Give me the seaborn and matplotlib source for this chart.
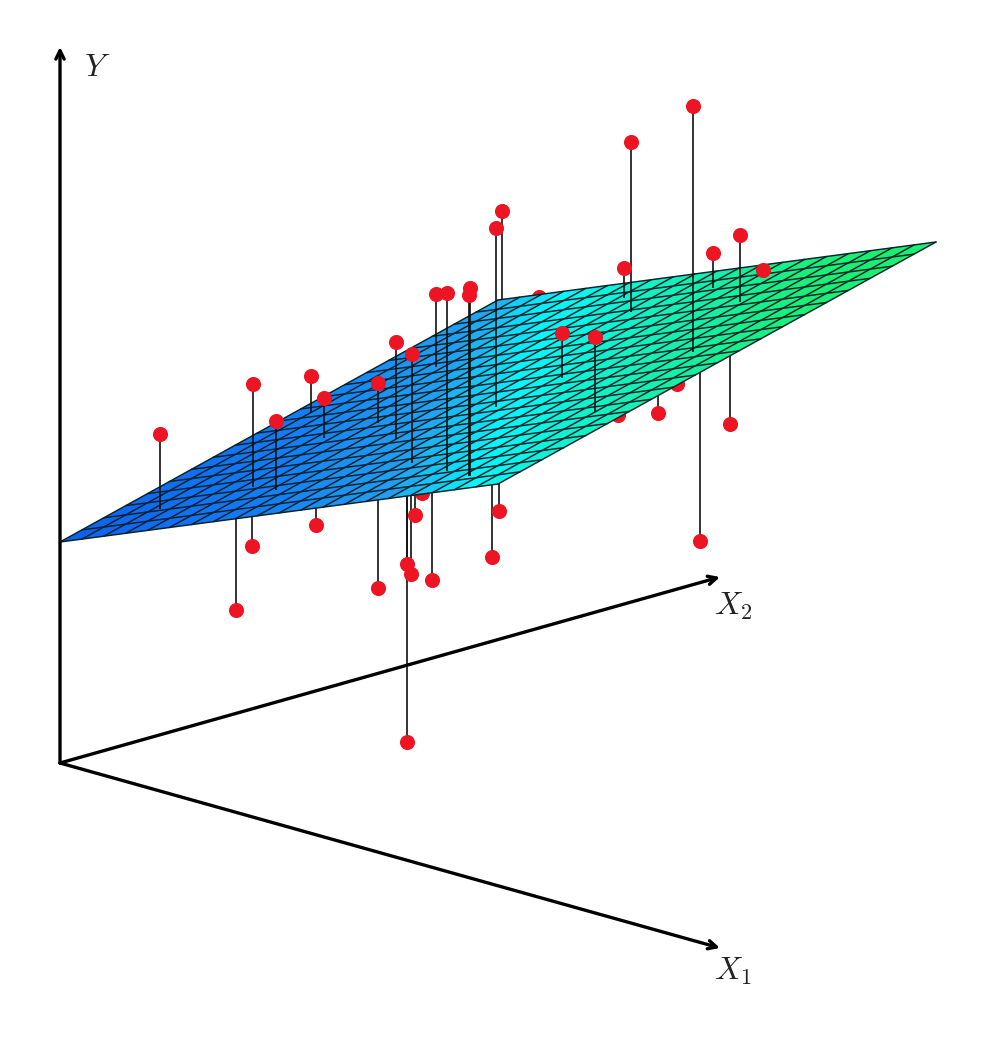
import numpy as np
import seaborn as sns
import matplotlib.pyplot as plt
from matplotlib.colors import LinearSegmentedColormap

# everything is read off the picture, in pixels
# points in front of / above the plane: x, y of point, y where the stem hits the plane
front_x = [160, 253, 276, 311, 324, 378, 396, 412, 436, 447, 470, 469, 496, 502, 624, 631, 562, 595, 693, 713, 740, 763]
front_y = [434, 384, 421, 376, 398, 383, 342, 354, 294, 293, 288, 295, 228, 211, 268, 142, 333, 337, 106, 253, 235, 270]
front_end = [509, 487, 490, 413, 438, 423, 439, 463, 367, 471, 476, 476, 407, 300, 298, 312, 378, 412, 352, 288, 302, 278]

# points below the plane, the surface covers the stems
below_x = [236, 252, 316, 378, 407, 411, 407, 415, 432, 492, 499, 422, 539, 618, 677, 658, 730, 700]
below_y = [610, 546, 525, 588, 564, 574, 742, 515, 580, 557, 511, 493, 297, 415, 384, 413, 424, 541]
below_end = [500, 500, 490, 480, 480, 480, 480, 480, 480, 470, 470, 470, 290, 400, 370, 385, 350, 360]

# plane corners
corner_x = [60, 498, 936, 498]
corner_y = [542, 300, 243, 484]
n_cells = 20

axis_origin = (60, 763)
axis_ends = {"Y": (60, 47), "X2": (720, 577), "X1": (720, 948)}
axis_labels = ["$Y$", "$X_2$", "$X_1$"]
label_x = [97, 733, 733]
label_y = [68, 606, 971]

cmap_stops = [(0.0, "#0f5ff0"), (0.25, "#147df5"), (0.42, "#23a0f0"), (0.52, "#0af5fa"),
              (0.66, "#14f0be"), (0.85, "#19f078"), (1.0, "#19f06e")]

sns.set_style("white")
plt.rcParams["mathtext.fontset"] = "cm"

fig = plt.figure(figsize=(9.94, 10.37), dpi=100)
ax = fig.add_axes([0, 0, 1, 1])
ax.set_xlim(0, 994)
ax.set_ylim(1037, 0)
ax.axis("off")

# things behind the plane
ax.vlines(below_x, below_y, below_end, color="#111111", lw=1.2, zorder=1)
sns.scatterplot(x=below_x, y=below_y, color="#ed1423", s=118, linewidth=0, ax=ax, zorder=2, legend=False)

# plane
u, v = np.meshgrid(np.linspace(0, 1, n_cells + 1), np.linspace(0, 1, n_cells + 1))
X = corner_x[0] + u * (corner_x[3] - corner_x[0]) + v * (corner_x[1] - corner_x[0])
Y = corner_y[0] + u * (corner_y[3] - corner_y[0]) + v * (corner_y[1] - corner_y[0])
um = (u[:-1, :-1] + u[1:, 1:]) / 2
vm = (v[:-1, :-1] + v[1:, 1:]) / 2
cmap = LinearSegmentedColormap.from_list("plane", cmap_stops)
mesh = ax.pcolormesh(X, Y, (um + 0.8 * vm) / 1.8, cmap=cmap, vmin=0, vmax=1, zorder=3, antialiased=True, linewidth=0)
mesh.set_snap(False)
ax.plot(X, Y, color="#06222a", lw=1.05, zorder=3.1, solid_capstyle="round")
ax.plot(X.T, Y.T, color="#06222a", lw=1.05, zorder=3.1, solid_capstyle="round")

# things in front of the plane
ax.vlines(front_x, front_y, front_end, color="#111111", lw=1.2, zorder=4)
sns.scatterplot(x=front_x, y=front_y, color="#ed1423", s=118, linewidth=0, ax=ax, zorder=5, legend=False)

# axes as arrows
for end in axis_ends.values():
    ax.annotate("", xy=end, xytext=axis_origin, zorder=6,
                arrowprops=dict(arrowstyle="->", color="black", lw=2.4, shrinkA=0, shrinkB=0, mutation_scale=15))
for lx, ly, lab in zip(label_x, label_y, axis_labels):
    ax.text(lx, ly, lab, fontsize=23, color="#222222", ha="center", va="center")

plt.savefig("out.png", dpi=100)
